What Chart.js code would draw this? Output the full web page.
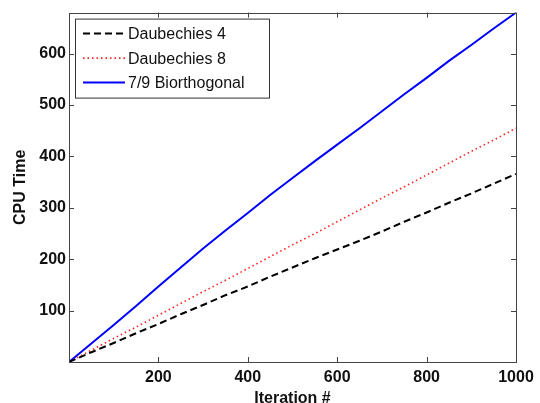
<!DOCTYPE html>
<html>
<head>
<meta charset="utf-8">
<script src="https://cdn.jsdelivr.net/npm/chart.js@4"></script>
<style>
  html, body { margin: 0; padding: 0; background: #fff; overflow: hidden; }
  #wrap { width: 540px; height: 408px; }
</style>
</head>
<body>
<div id="wrap"><canvas id="cpu-chart"></canvas></div>
<script>
// iterations (x) and cpu time
const iterations = [0, 50, 100, 150, 200, 250, 300, 350, 400, 450, 500, 550, 600, 650, 700, 750, 800, 850, 900, 950, 1000];
const daub4 = [0, 19, 37, 56, 74, 93, 111, 130, 147, 166, 184, 202, 219, 236, 254, 273, 291, 310, 328, 347, 366];
const daub8 = [0, 23, 46, 68, 91, 114, 137, 159, 182, 205, 228, 250, 273, 296, 319, 341, 364, 387, 410, 432, 455];
const bior79 = [0, 36, 72, 109, 147, 184, 221, 256, 290, 325, 358, 391, 423, 455, 488, 521, 553, 586, 617, 649, 680];

const xTicks = [200, 400, 600, 800, 1000];
const yTicks = [100, 200, 300, 400, 500, 600];

const toXY = (arr) => arr.map((v, i) => ({ x: iterations[i], y: v }));

// matlab style: ticks inside the box + legend box in the corner
const matlabBox = {
  id: "matlabBox",
  afterDraw(chart) {
    const ctx = chart.ctx;
    const a = chart.chartArea;
    const xs = chart.scales.x, ys = chart.scales.y;
    ctx.save();
    ctx.strokeStyle = "#444";
    ctx.lineWidth = 1;
    ctx.beginPath();
    xTicks.forEach(t => {
      const px = Math.round(xs.getPixelForValue(t)) + 0.5;
      ctx.moveTo(px, a.bottom); ctx.lineTo(px, a.bottom - 5);
      ctx.moveTo(px, a.top); ctx.lineTo(px, a.top + 5);
    });
    yTicks.forEach(t => {
      const py = Math.round(ys.getPixelForValue(t)) + 0.5;
      ctx.moveTo(a.left, py); ctx.lineTo(a.left + 5, py);
      ctx.moveTo(a.right, py); ctx.lineTo(a.right - 5, py);
    });
    ctx.stroke();
    ctx.strokeRect(Math.round(a.left) + 0.5, Math.round(a.top) + 0.5, Math.round(a.right - a.left), Math.round(a.bottom - a.top));

    // legend
    const bx = a.left + 6, by = a.top + 6, bw = 194, bh = 79;
    ctx.fillStyle = "#fff";
    ctx.fillRect(bx, by, bw, bh);
    ctx.strokeStyle = "#333";
    ctx.strokeRect(bx + 0.5, by + 0.5, bw, bh);
    ctx.font = "16px 'Liberation Sans', Arial, sans-serif";
    ctx.textBaseline = "middle";
    chart.data.datasets.forEach((ds, i) => {
      const cy = by + 15 + i * 24.5;
      ctx.strokeStyle = ds.borderColor;
      ctx.lineWidth = ds.borderWidth;
      ctx.setLineDash(ds.borderDash || []);
      ctx.beginPath();
      ctx.moveTo(bx + 8, cy); ctx.lineTo(bx + 50, cy);
      ctx.stroke();
      ctx.setLineDash([]);
      ctx.fillStyle = "#111";
      ctx.fillText(ds.label, bx + 53, cy + 1);
    });
    ctx.restore();
  }
};

const axisFont = { family: "'Liberation Sans', Arial, sans-serif", size: 16, weight: "bold" };

new Chart(document.getElementById("cpu-chart"), {
  type: "line",
  data: {
    datasets: [
      {
        label: "Daubechies 4",
        data: toXY(daub4),
        borderColor: "#000000",
        borderWidth: 2,
        borderDash: [7, 4],
        pointRadius: 0,
        fill: false
      },
      {
        label: "Daubechies 8",
        data: toXY(daub8),
        borderColor: "#ff2020",
        borderWidth: 1.6,
        borderDash: [1.5, 3],
        pointRadius: 0,
        fill: false
      },
      {
        label: "7/9 Biorthogonal",
        data: toXY(bior79),
        borderColor: "#0000ff",
        borderWidth: 2,
        pointRadius: 0,
        fill: false
      }
    ]
  },
  options: {
    responsive: true,
    maintainAspectRatio: false,
    animation: false,
    layout: { padding: { top: 12, right: 24, left: 0, bottom: 0 } },
    plugins: {
      legend: { display: false },
      tooltip: { enabled: false }
    },
    scales: {
      x: {
        type: "linear",
        min: 0,
        max: 1000,
        afterBuildTicks: (s) => { s.ticks = xTicks.map(v => ({ value: v })); },
        afterFit: (s) => { s.height = 46; },
        grid: { display: false, drawTicks: false },
        border: { display: false },
        ticks: {
          color: "#111",
          padding: 6,
          font: axisFont,
          callback: (v) => String(v)
        },
        title: {
          display: true,
          text: "Iteration #",
          color: "#111",
          padding: { top: 0, bottom: 0 },
          font: axisFont
        }
      },
      y: {
        type: "linear",
        min: 0,
        max: 680,
        afterBuildTicks: (s) => { s.ticks = yTicks.map(v => ({ value: v })); },
        afterFit: (s) => { s.width = 69; },
        grid: { display: false, drawTicks: false },
        border: { display: false },
        ticks: {
          color: "#111",
          padding: 3,
          font: axisFont,
          callback: (v) => String(v)
        },
        title: {
          display: true,
          text: "CPU Time",
          color: "#111",
          padding: { top: 11, bottom: 0 },
          font: axisFont
        }
      }
    }
  },
  plugins: [matlabBox]
});
</script>
</body>
</html>
